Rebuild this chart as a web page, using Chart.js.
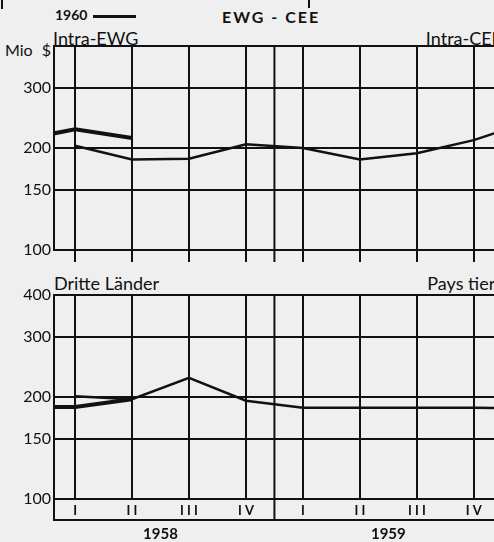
<!DOCTYPE html>
<html>
<head>
<meta charset="utf-8">
<script src="https://cdn.jsdelivr.net/npm/chart.js@4.4.0/dist/chart.umd.min.js"></script>
<style>
    body { margin: 0; background: #efefef; overflow: hidden; }
    #wrap { position: relative; width: 494px; height: 542px; overflow: hidden; font-family: Lato, sans-serif; color: #111; }
    .lbl { position: absolute; white-space: nowrap; line-height: 1; }
    canvas { position: absolute; left: 0; }
</style>
</head>
<body>
<div id="wrap">
    <div class="lbl" style="left:1px;top:0;width:2px;height:9px;background:#111"></div>
    <div class="lbl" style="left:308px;top:0;width:2px;height:8px;background:#111"></div>
    <div class="lbl" style="left:55px;top:8px;font-size:14px;font-weight:700">1960</div>
    <div class="lbl" style="left:93px;top:15px;width:43px;height:3px;background:#111"></div>
    <div class="lbl" style="left:222px;top:9px;font-size:16px;font-weight:700;letter-spacing:2px">EWG - CEE</div>
    <div class="lbl" style="left:53px;top:29px;font-size:18px">Intra-EWG</div>
    <div class="lbl" style="right:-8px;top:29px;font-size:18px">Intra-CEE</div>
    <div class="lbl" style="left:5px;top:42px;font-size:16px;word-spacing:5px">Mio $</div>
    <div class="lbl" style="left:54px;top:274px;font-size:18px">Dritte Länder</div>
    <div class="lbl" style="right:-9px;top:274px;font-size:18px">Pays tiers</div>

    <canvas id="intraChart" width="496" height="270" style="top:0"></canvas>
    <canvas id="thirdChart" width="496" height="272" style="top:270px"></canvas>
</div>

<script>
// Quarter positions: 0..7 = I 1958 .. IV 1959, -1 and 8 run out of the frame
const quarterPos = [0, 1, 2, 3, 4, 5, 6, 7];
const quarterNames = ['I', 'I I', 'I I I', 'I V', 'I', 'I I', 'I I I', 'I V'];
const years = ['1958', '1959'];
const yearCenters = [1.5, 5.5];
const yearSplit = 3.5;
const yTicks = [100, 150, 200, 300, 400];

// Intra-EWG (Mio $)
const intraX5859 = [0, 1, 2, 3, 4, 5, 6, 7, 8];
const intra5859 = [203, 185, 186, 205, 200, 185, 193, 211, 240];
const intraX60 = [-1, 0, 1];
const intra60 = [211, 227, 214];

// Dritte Länder (Mio $)
const thirdX5859 = [0, 1, 2, 3, 4, 5, 6, 7, 8];
const third5859 = [201, 197, 228, 195, 186, 186, 186, 186, 185];
const thirdX60 = [-1, 0, 1];
const third60 = [187, 187, 197];

const ink = '#111';
Chart.defaults.font.family = 'Lato, sans-serif';
Chart.defaults.color = ink;

const toPoints = (xs, ys) => xs.map((x, i) => ({ x: x, y: ys[i] }));

// draws the year divider, and on the lower panel the label strip and years
const framePlugin = {
    id: 'frame',
    afterDraw(chart, args, opts) {
        const { ctx, chartArea } = chart;
        const x = chart.scales.x;
        const xd = x.getPixelForValue(yearSplit);
        const bottom = opts.strip ? x.bottom : chartArea.bottom + 12;
        ctx.save();
        ctx.strokeStyle = ink;
        ctx.lineWidth = 2;
        ctx.beginPath();
        ctx.moveTo(xd, chartArea.top);
        ctx.lineTo(xd, bottom);
        if (opts.strip) {
            ctx.moveTo(chartArea.left, chartArea.bottom);
            ctx.lineTo(chartArea.left, x.bottom);
            ctx.moveTo(chartArea.left - 1, x.bottom);
            ctx.lineTo(chartArea.right, x.bottom);
        }
        ctx.stroke();
        if (opts.strip) {
            ctx.fillStyle = ink;
            ctx.font = '700 15px Lato, sans-serif';
            ctx.textAlign = 'center';
            ctx.textBaseline = 'middle';
            years.forEach((y, i) => {
                ctx.fillText(y, x.getPixelForValue(yearCenters[i]), x.bottom + 14);
            });
        }
        ctx.restore();
    }
};

function makePanel(canvasId, x5859, v5859, x60, v60, isLower) {
    const ctx = document.getElementById(canvasId).getContext('2d');
    return new Chart(ctx, {
        type: 'line',
        data: {
            datasets: [{
                label: '1958-1959',
                data: toPoints(x5859, v5859),
                borderColor: ink,
                borderWidth: 2.5,
                pointRadius: 0,
                tension: 0
            }, {
                label: '1960',
                data: toPoints(x60, v60),
                borderColor: ink,
                borderWidth: 4,
                pointRadius: 0,
                tension: 0
            }]
        },
        options: {
            responsive: false,
            animation: false,
            devicePixelRatio: 1,
            layout: {
                padding: isLower ? { top: 25, bottom: 22, left: 0, right: 0 } : { top: 46, bottom: 8, left: 0, right: 0 }
            },
            plugins: {
                legend: { display: false },
                tooltip: { enabled: false },
                frame: { strip: isLower }
            },
            scales: {
                x: {
                    type: 'linear',
                    min: -0.37,
                    max: 7.39,
                    afterBuildTicks: (axis) => { axis.ticks = quarterPos.map(v => ({ value: v })); },
                    afterFit: (axis) => { axis.height = isLower ? 21 : 12; },
                    grid: {
                        color: ink,
                        lineWidth: 2,
                        drawTicks: !isLower,
                        tickLength: 12
                    },
                    border: { display: false },
                    ticks: {
                        display: isLower,
                        autoSkip: false,
                        maxRotation: 0,
                        padding: 4,
                        font: { size: 13, weight: '700' },
                        callback: (v) => quarterNames[v]
                    }
                },
                y: {
                    type: 'logarithmic',
                    min: 100,
                    max: 400,
                    afterBuildTicks: (axis) => { axis.ticks = yTicks.map(v => ({ value: v })); },
                    afterFit: (axis) => { axis.width = 54; },
                    grid: {
                        color: ink,
                        lineWidth: 2,
                        drawTicks: false
                    },
                    border: { display: true, color: ink, width: 2 },
                    ticks: {
                        autoSkip: false,
                        padding: 3,
                        font: { size: 16 },
                        callback: (v) => (!isLower && v === 400) ? '' : String(v)
                    }
                }
            }
        },
        plugins: [framePlugin]
    });
}

makePanel('intraChart', intraX5859, intra5859, intraX60, intra60, false);
makePanel('thirdChart', thirdX5859, third5859, thirdX60, third60, true);
</script>
</body>
</html>
